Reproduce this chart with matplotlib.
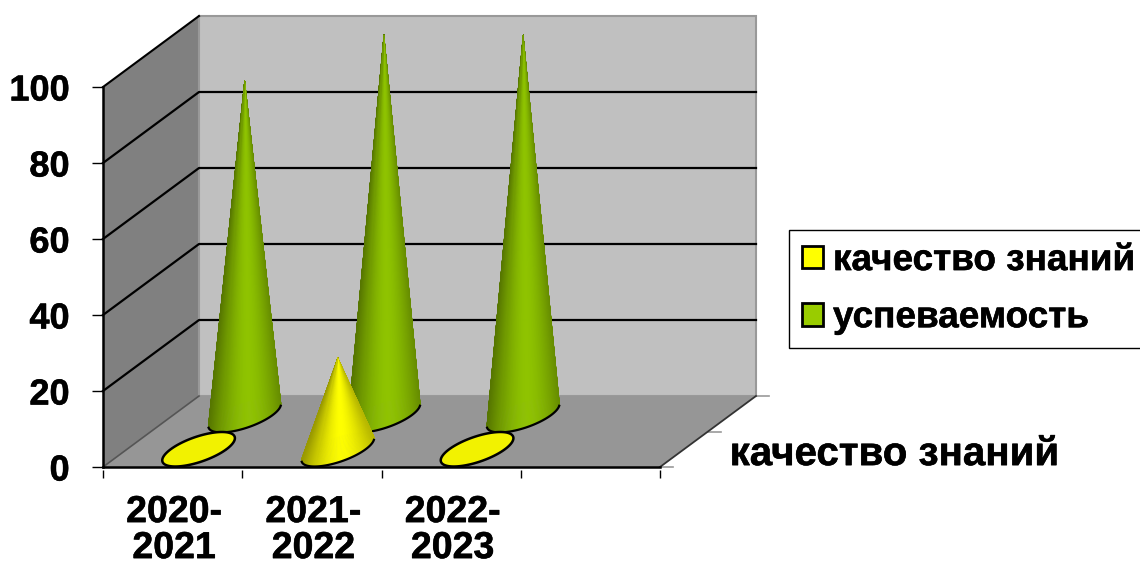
import numpy as np
import matplotlib
matplotlib.use("Agg")
import matplotlib.pyplot as plt
import matplotlib.patheffects as pe
from matplotlib.collections import PolyCollection
from matplotlib.patches import Patch, Polygon

plt.rcParams['font.family'] = ['Liberation Sans', 'DejaVu Sans']
plt.rcParams['font.weight'] = 'bold'

# Данные диаграммы
years = ['2020-\n2021', '2021-\n2022', '2022-\n2023']
kachestvo = [0, 24, 0]
uspevaemost = [88, 100, 100]
series_names = ['качество знаний', 'успеваемость']
y_ticks = [0, 20, 40, 60, 80, 100]
depth_label = 'качество знаний'

# Псевдо-3D: сдвиг задней стенки в единицах осей
DEPTH_X = 96 / 139.25
DEPTH_Y = 71 / 3.8
RADIUS_CAT = 0.2
RADIUS_DEPTH = 0.243
CONE_SHIFT = 0.014
N_CAT = 4


def proj(cat, depth, val):
    return cat + depth * DEPTH_X, val + depth * DEPTH_Y


def base_point(cat, depth, t):
    return proj(cat + RADIUS_CAT * np.cos(t), depth + RADIUS_DEPTH * np.sin(t), 0)


def draw_cone(ax, cat, depth, value, color, zorder):
    color = np.array(matplotlib.colors.to_rgb(color))
    t_all = np.linspace(0, 2 * np.pi, 241)
    bx, by = base_point(cat, depth, t_all)

    if value == 0:
        # нулевое значение - только основание конуса
        ax.add_patch(Polygon(np.column_stack([bx, by]), closed=True, facecolor=color * 0.95,
                             edgecolor='black', linewidth=1.8, clip_on=False, zorder=zorder))
        return

    # конус из треугольников: от дальних к ближним, тень по краям
    ax_apex, ay_apex = proj(cat, depth, value)
    cx = proj(cat, depth, 0)[0]
    half = np.abs(bx - cx).max()
    order = np.argsort(-np.sin(t_all[:-1]))
    polys, colors = [], []
    for i in order:
        polys.append([(ax_apex, ay_apex), (bx[i], by[i]), (bx[i + 1], by[i + 1])])
        s = (bx[i] - cx) / half
        colors.append(color * (1 - 0.34 * np.abs(s - 0.1) ** 1.7))
    ax.add_collection(PolyCollection(polys, facecolors=colors, edgecolors=colors, linewidths=0.4,
                                     clip_on=False, zorder=zorder))

    # черная дуга по переднему краю основания
    t0 = np.arctan2(RADIUS_DEPTH * DEPTH_X, RADIUS_CAT)
    t_arc = np.linspace(t0 - np.pi + 0.12, t0 - 0.12, 100)
    ax.plot(*base_point(cat, depth, t_arc), color='black', lw=1.6, clip_on=False, zorder=zorder + 0.1)


fig = plt.figure(figsize=(11.4, 5.68), dpi=100)
ax = fig.add_axes([103 / 1140, (568 - 467) / 568, 557 / 1140, 380 / 568])
ax.patch.set_visible(False)
ax.set_xlim(0, N_CAT)
ax.set_ylim(0, 100)

# Стенки и пол
top = y_ticks[-1]
ax.add_patch(Polygon([proj(0, 0, 0), proj(0, 1, 0), proj(0, 1, top), proj(0, 0, top)],
                     facecolor='#808080', edgecolor='none', clip_on=False, zorder=1))
ax.add_patch(Polygon([proj(0, 1, 0), proj(N_CAT, 1, 0), proj(N_CAT, 1, top), proj(0, 1, top)],
                     facecolor='#c0c0c0', edgecolor='#999999', linewidth=1.5, clip_on=False, zorder=1))
ax.add_patch(Polygon([proj(0, 0, 0), proj(N_CAT, 0, 0), proj(N_CAT, 1, 0), proj(0, 1, 0)],
                     facecolor='#969696', edgecolor='none', clip_on=False, zorder=1.5))

# Линии сетки на стенках
for v in y_ticks[1:]:
    xs, ys = zip(proj(0, 0, v), proj(0, 1, v), proj(N_CAT, 1, v))
    if v == top:
        ax.plot(xs[:2], ys[:2], color='black', lw=1.5, clip_on=False, zorder=2)
    else:
        ax.plot(xs, ys, color='black', lw=1.6, clip_on=False, zorder=2)
xs, ys = zip(proj(0, 0, 0), proj(0, 1, 0))
ax.plot(xs, ys, color='#555555', lw=1.2, clip_on=False, zorder=2)
xs, ys = zip(proj(N_CAT, 0, 0), proj(N_CAT, 1, 0))
ax.plot(xs, ys, color='#333333', lw=1.3, clip_on=False, zorder=2)

# Засечки оси глубины
for d in [0, 0.5, 1]:
    px, py = proj(N_CAT, d, 0)
    ax.plot([px, px + 0.09], [py, py], color='#999999', lw=1.2, clip_on=False, zorder=1.2)

# Конусы: сначала задний ряд
for i, v in enumerate(uspevaemost):
    draw_cone(ax, i + 0.5 + CONE_SHIFT, 0.73, v, '#8fc400', 3)
for i, v in enumerate(kachestvo):
    draw_cone(ax, i + 0.5 + CONE_SHIFT, 0.25, v, '#ffff00', 4)

# Оси
for side in ['top', 'right']:
    ax.spines[side].set_visible(False)
ax.spines['left'].set_linewidth(1.8)
ax.spines['bottom'].set_linewidth(1.8)
ax.spines['left'].set_zorder(5)
ax.spines['bottom'].set_zorder(5)

ax.set_yticks(y_ticks)
ax.tick_params(axis='y', length=8, width=1, pad=16, labelsize=26)
ax.set_xticks([i + 0.51 for i in range(len(years))], years)
ax.tick_params(axis='x', length=0, pad=19.5, labelsize=27)
for t in ax.get_xticklabels():
    t.set_linespacing(1.0)
ax.vlines(range(N_CAT + 1), -2.9, -0.8, color='black', lw=1, clip_on=False)

depth_text = ax.text(4.5, 0.5, depth_label, fontsize=29, ha='left', va='baseline')

# Легенда
handles = [Patch(facecolor='#ffff00', edgecolor='black', linewidth=2),
           Patch(facecolor='#99cc00', edgecolor='black', linewidth=2)]
leg = fig.legend(handles, series_names, loc='upper left', bbox_to_anchor=(789 / 1140, 1 - 230.5 / 568),
                 borderaxespad=0, fontsize=26.6, fancybox=False, framealpha=1, edgecolor='black',
                 handlelength=0.57, handleheight=0.57, handletextpad=0.28, labelspacing=0.6, borderpad=0.34)

# Текст в оригинале заметно жирнее
stroke = [pe.withStroke(linewidth=0.4, foreground='black')]
for t in ax.get_xticklabels() + ax.get_yticklabels() + leg.get_texts() + [depth_text]:
    t.set_path_effects(stroke)

plt.savefig('out.png', dpi=100)
plt.close()
